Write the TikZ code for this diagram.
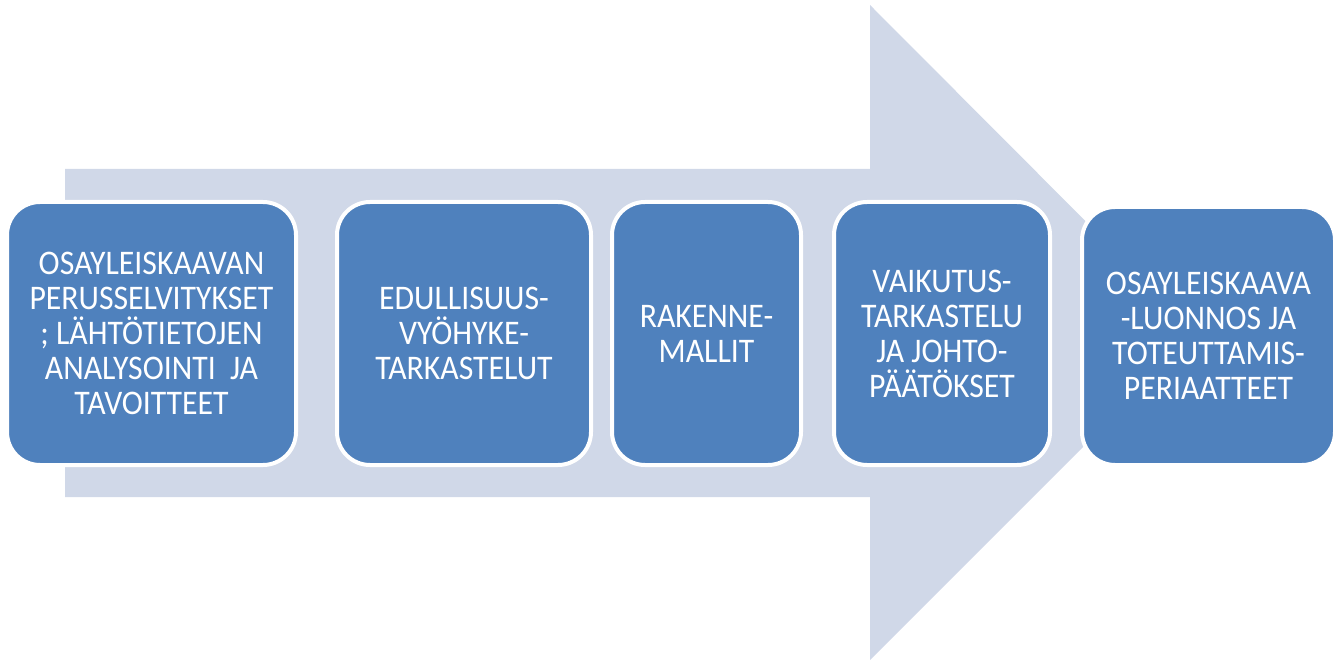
\documentclass[tikz,border=0pt]{standalone}
\usepackage{fontspec}
\setmainfont{Carlito}[FakeStretch=0.92]
\usepackage{xcolor}
\usetikzlibrary{positioning}
\definecolor{stageblue}{HTML}{4F81BD}
\definecolor{flowgray}{HTML}{D0D8E8}
\tikzset{stage/.style={rectangle, rounded corners=33pt, fill=stageblue,
    draw=white, line width=4pt, text=white, align=center, inner sep=0pt,
    minimum height=263pt, font=\fontsize{34.5}{35}\selectfont}}

\begin{document}
\begin{tikzpicture}[x=1pt,y=-1pt]
\useasboundingbox (0,0) rectangle (1342,660);
%
% the big arrow behind the stages
\fill[flowgray] (65,169) -- (870,169) -- (870,5) -- (1197,333)
    -- (870,660) -- (870,497) -- (65,497) -- cycle;
%
\node[stage, minimum width=289pt] (perus) at (151.5,333.5)
    {OSAYLEISKAAVAN\\PERUSSELVITYKSET\\; LÄHTÖTIETOJEN\\ANALYSOINTI\ \ JA\\TAVOITTEET};
\node[stage, minimum width=254pt] (edull) at (464,333.5)
    {EDULLISUUS-\\VYÖHYKE-\\TARKASTELUT};
\node[stage, minimum width=189pt] (malli) at (706.5,333.5)
    {RAKENNE-\\MALLIT};
\node[stage, minimum width=216pt] (vaiku) at (942,333.5)
    {VAIKUTUS-\\TARKASTELU\\JA JOHTO-\\PÄÄTÖKSET};
\node[stage, minimum width=253pt, minimum height=258pt] (luonn) at (1208.5,336)
    {OSAYLEISKAAVA\\-LUONNOS JA\\TOTEUTTAMIS-\\PERIAATTEET};
%
\end{tikzpicture}
\end{document}
